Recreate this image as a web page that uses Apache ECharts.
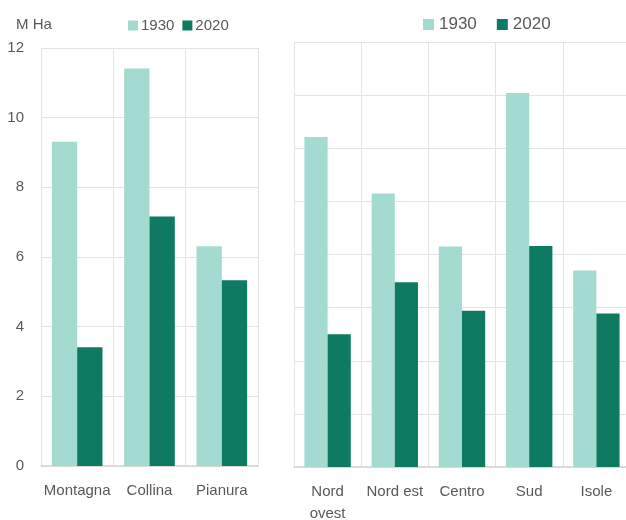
<!DOCTYPE html>
<html><head><meta charset="utf-8">
<script src="https://cdn.jsdelivr.net/npm/echarts@6/dist/echarts.min.js"></script>
<style>html,body{margin:0;padding:0;background:#fff}#c{width:626px;height:520px}</style>
</head><body><div id="c"></div>
<script>
const zoneCats = ['Montagna', 'Collina', 'Pianura'];
const zone1930 = [9.31, 11.41, 6.31];
const zone2020 = [3.41, 7.16, 5.33];
const areaCats = ['Nord\novest', 'Nord est', 'Centro', 'Sud', 'Isole'];
const area1930 = [6.21, 5.15, 4.15, 7.04, 3.70];
const area2020 = [2.50, 3.48, 2.94, 4.16, 2.89];
const leftTicks = [0, 12, 2];
const rightTicks = [0, 8, 1];
const years = ['1930', '2020'];

const c1 = '#a3dbd0', c2 = '#0f7a62', txt = '#595959', grid = '#e4e4e4', base = '#d4d4d4';
const font = 'Liberation Sans, Arial, sans-serif';
const chart = echarts.init(document.getElementById('c'), null, {renderer: 'canvas'});
const xa = (cats, gi, lh, m) => ({
  type: 'category', gridIndex: gi, data: cats,
  axisLine: {show: true, lineStyle: {color: base, width: 1.5}},
  axisTick: {show: false},
  axisLabel: {color: txt, fontSize: 15, fontFamily: font, margin: m, lineHeight: lh, interval: 0},
  splitLine: {show: true, interval: 0, lineStyle: {color: grid, width: 1}}
});
const ya = (t, gi, show) => ({
  type: 'value', gridIndex: gi, min: t[0], max: t[1], interval: t[2],
  axisLine: {show: true, lineStyle: {color: grid}},
  axisTick: {show: false},
  axisLabel: {show: show, color: txt, fontSize: 15, fontFamily: font, margin: 17},
  splitLine: {show: true, lineStyle: {color: grid, width: 1}}
});
const ser = (name, data, color, gi, gap) => ({
  type: 'bar', name, data, xAxisIndex: gi, yAxisIndex: gi,
  itemStyle: {color}, barGap: '0%', barCategoryGap: gap, animation: false
});
chart.setOption({
  animation: false,
  textStyle: {fontFamily: font},
  title: {text: 'M Ha', left: 11, top: 12, textStyle: {color: txt, fontSize: 15, fontWeight: 'normal', fontFamily: font}},
  legend: [
    {data: years, left: 123, top: 13, itemWidth: 10, itemHeight: 10, itemGap: 8,
     icon: 'rect', textStyle: {color: txt, fontSize: 15, fontFamily: font, padding: [0, 0, 0, -2]}},
    {data: years, left: 418, top: 11, itemWidth: 11, itemHeight: 11, itemGap: 20,
     icon: 'rect', textStyle: {color: txt, fontSize: 17, fontFamily: font}}
  ],
  grid: [
    {left: 41, right: 368, top: 48, bottom: 54, outerBoundsMode: 'none', containLabel: false},
    {left: 294, right: -4, top: 42, bottom: 53, outerBoundsMode: 'none', containLabel: false}
  ],
  xAxis: [xa(zoneCats, 0, 18, 16), xa(areaCats, 1, 22, 14)],
  yAxis: [ya(leftTicks, 0, true), ya(rightTicks, 1, false)],
  series: [
    ser(years[0], zone1930, c1, 0, '30%'),
    ser(years[1], zone2020, c2, 0, '30%'),
    ser(years[0], area1930, c1, 1, '31%'),
    ser(years[1], area2020, c2, 1, '31%')
  ]
});
</script></body></html>
